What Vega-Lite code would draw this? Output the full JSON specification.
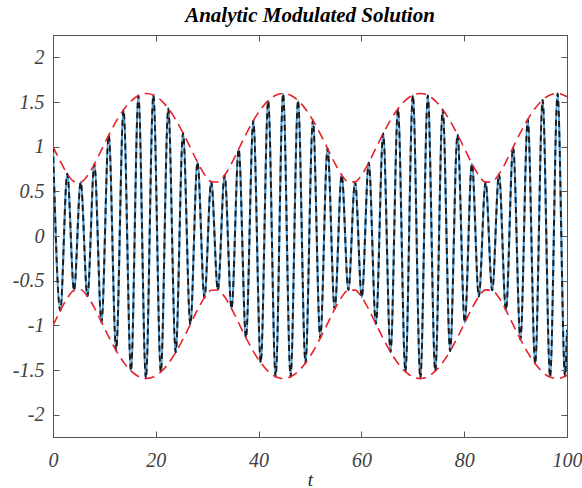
{
  "$schema": "https://vega.github.io/schema/vega-lite/v6.json",
  "width": 514,
  "height": 402,
  "autosize": {"type": "none"},
  "padding": {"left": 53, "top": 35, "right": 15, "bottom": 51},
  "background": "white",
  "title": {"text": "Analytic Modulated Solution", "font": "'Liberation Serif', 'Times New Roman', serif", "fontSize": 21, "fontStyle": "italic", "fontWeight": "bold", "color": "#000000", "offset": 9, "anchor": "middle"},
  "config": {
    "view": {"stroke": "#555555", "strokeWidth": 1},
    "axis": {"grid": false, "domainColor": "#555555", "tickColor": "#555555", "tickSize": -6, "labelFont": "'Liberation Serif', 'Times New Roman', serif", "labelFontStyle": "italic", "labelFontSize": 20, "labelColor": "#404040", "titleFont": "'Liberation Serif', 'Times New Roman', serif", "titleFontStyle": "italic", "titleFontWeight": "normal", "titleFontSize": 19, "titleColor": "#262626", "labelFlush": false, "labelOverlap": false}
  },
  "data": {"values": [
    {"t": 0, "u": 1.0, "upper": 1.001, "lower": -1.001},
    {"t": 1.418, "u": -0.836, "upper": 0.836, "lower": -0.836},
    {"t": 2.777, "u": 0.696, "upper": 0.696, "lower": -0.696},
    {"t": 4.094, "u": -0.610, "upper": 0.610, "lower": -0.610},
    {"t": 5.387, "u": 0.602, "upper": 0.602, "lower": -0.602},
    {"t": 6.697, "u": -0.674, "upper": 0.674, "lower": -0.674},
    {"t": 8.047, "u": 0.804, "upper": 0.804, "lower": -0.804},
    {"t": 9.435, "u": -0.965, "upper": 0.965, "lower": -0.965},
    {"t": 10.849, "u": 1.130, "upper": 1.130, "lower": -1.130},
    {"t": 12.281, "u": -1.283, "upper": 1.283, "lower": -1.283},
    {"t": 13.722, "u": 1.412, "upper": 1.412, "lower": -1.412},
    {"t": 15.169, "u": -1.510, "upper": 1.510, "lower": -1.510},
    {"t": 16.620, "u": 1.572, "upper": 1.572, "lower": -1.572},
    {"t": 18.073, "u": -1.595, "upper": 1.595, "lower": -1.595},
    {"t": 19.526, "u": 1.578, "upper": 1.578, "lower": -1.578},
    {"t": 20.977, "u": -1.522, "upper": 1.522, "lower": -1.522},
    {"t": 22.425, "u": 1.429, "upper": 1.429, "lower": -1.429},
    {"t": 23.868, "u": -1.303, "upper": 1.303, "lower": -1.303},
    {"t": 25.301, "u": 1.153, "upper": 1.153, "lower": -1.153},
    {"t": 26.718, "u": -0.990, "upper": 0.990, "lower": -0.990},
    {"t": 28.111, "u": 0.827, "upper": 0.827, "lower": -0.827},
    {"t": 29.467, "u": -0.690, "upper": 0.690, "lower": -0.690},
    {"t": 30.782, "u": 0.608, "upper": 0.608, "lower": -0.608},
    {"t": 32.075, "u": -0.604, "upper": 0.604, "lower": -0.604},
    {"t": 33.387, "u": 0.680, "upper": 0.680, "lower": -0.680},
    {"t": 34.739, "u": -0.813, "upper": 0.813, "lower": -0.813},
    {"t": 36.129, "u": 0.974, "upper": 0.974, "lower": -0.974},
    {"t": 37.545, "u": -1.139, "upper": 1.139, "lower": -1.139},
    {"t": 38.977, "u": 1.291, "upper": 1.291, "lower": -1.291},
    {"t": 40.418, "u": -1.419, "upper": 1.419, "lower": -1.419},
    {"t": 41.866, "u": 1.515, "upper": 1.515, "lower": -1.515},
    {"t": 43.317, "u": -1.575, "upper": 1.575, "lower": -1.575},
    {"t": 44.770, "u": 1.595, "upper": 1.595, "lower": -1.595},
    {"t": 46.223, "u": -1.576, "upper": 1.576, "lower": -1.576},
    {"t": 47.674, "u": 1.517, "upper": 1.517, "lower": -1.517},
    {"t": 49.122, "u": -1.422, "upper": 1.422, "lower": -1.422},
    {"t": 50.564, "u": 1.296, "upper": 1.296, "lower": -1.296},
    {"t": 51.996, "u": -1.144, "upper": 1.144, "lower": -1.144},
    {"t": 53.413, "u": 0.980, "upper": 0.980, "lower": -0.980},
    {"t": 54.804, "u": -0.818, "upper": 0.818, "lower": -0.818},
    {"t": 56.158, "u": 0.684, "upper": 0.684, "lower": -0.684},
    {"t": 57.470, "u": -0.605, "upper": 0.605, "lower": -0.605},
    {"t": 58.764, "u": 0.606, "upper": 0.606, "lower": -0.606},
    {"t": 60.077, "u": -0.686, "upper": 0.686, "lower": -0.686},
    {"t": 61.432, "u": 0.821, "upper": 0.821, "lower": -0.821},
    {"t": 62.823, "u": -0.984, "upper": 0.984, "lower": -0.984},
    {"t": 64.240, "u": 1.148, "upper": 1.148, "lower": -1.148},
    {"t": 65.673, "u": -1.298, "upper": 1.298, "lower": -1.298},
    {"t": 67.115, "u": 1.425, "upper": 1.425, "lower": -1.425},
    {"t": 68.563, "u": -1.519, "upper": 1.519, "lower": -1.519},
    {"t": 70.014, "u": 1.577, "upper": 1.577, "lower": -1.577},
    {"t": 71.467, "u": -1.595, "upper": 1.595, "lower": -1.595},
    {"t": 72.920, "u": 1.574, "upper": 1.574, "lower": -1.574},
    {"t": 74.371, "u": -1.513, "upper": 1.513, "lower": -1.513},
    {"t": 75.818, "u": 1.416, "upper": 1.416, "lower": -1.416},
    {"t": 77.260, "u": -1.288, "upper": 1.288, "lower": -1.288},
    {"t": 78.691, "u": 1.136, "upper": 1.136, "lower": -1.136},
    {"t": 80.107, "u": -0.971, "upper": 0.971, "lower": -0.971},
    {"t": 81.496, "u": 0.810, "upper": 0.810, "lower": -0.810},
    {"t": 82.848, "u": -0.677, "upper": 0.677, "lower": -0.677},
    {"t": 84.158, "u": 0.603, "upper": 0.603, "lower": -0.603},
    {"t": 85.452, "u": -0.609, "upper": 0.609, "lower": -0.609},
    {"t": 86.767, "u": 0.692, "upper": 0.692, "lower": -0.692},
    {"t": 88.124, "u": -0.830, "upper": 0.830, "lower": -0.830},
    {"t": 89.518, "u": 0.993, "upper": 0.993, "lower": -0.993},
    {"t": 90.936, "u": -1.157, "upper": 1.157, "lower": -1.157},
    {"t": 92.369, "u": 1.306, "upper": 1.306, "lower": -1.306},
    {"t": 93.811, "u": -1.431, "upper": 1.431, "lower": -1.431},
    {"t": 95.260, "u": 1.523, "upper": 1.523, "lower": -1.523},
    {"t": 96.711, "u": -1.579, "upper": 1.579, "lower": -1.579},
    {"t": 98.164, "u": 1.595, "upper": 1.595, "lower": -1.595},
    {"t": 99.617, "u": -1.571, "upper": 1.571, "lower": -1.571},
    {"t": 100, "u": -1.051, "upper": 1.559, "lower": -1.559}
  ]},
  "layer": [
    {
      "mark": {"type": "line", "interpolate": "monotone", "color": "#4d9ad6", "strokeWidth": 2.2, "clip": true},
      "encoding": {
        "x": {"field": "t", "type": "quantitative", "scale": {"domain": [0, 100], "nice": false, "zero": false},
              "axis": {"orient": "bottom", "values": [0, 20, 40, 60, 80, 100], "title": "t", "labelPadding": 19, "titlePadding": 0}},
        "y": {"field": "u", "type": "quantitative", "scale": {"domain": [-2.25, 2.25], "nice": false, "zero": false},
              "axis": {"orient": "left", "values": [-2, -1.5, -1, -0.5, 0, 0.5, 1, 1.5, 2], "title": null, "labelExpr": "'' + datum.value", "labelPadding": 15}}
      }
    },
    {
      "mark": {"type": "line", "interpolate": "monotone", "color": "#1a1a1a", "strokeWidth": 1.9, "strokeDash": [6, 4], "clip": true},
      "encoding": {
        "x": {"field": "t", "type": "quantitative", "axis": {"orient": "top", "values": [0, 20, 40, 60, 80, 100], "labels": false, "title": null}},
        "y": {"field": "u", "type": "quantitative", "axis": {"orient": "right", "values": [-2, -1.5, -1, -0.5, 0, 0.5, 1, 1.5, 2], "labels": false, "title": null}}
      }
    },
    {
      "mark": {"type": "line", "interpolate": "monotone", "color": "#e8202a", "strokeWidth": 1.6, "strokeDash": [10, 6], "clip": true},
      "encoding": {
        "x": {"field": "t", "type": "quantitative", "axis": null},
        "y": {"field": "upper", "type": "quantitative", "axis": null}
      }
    },
    {
      "mark": {"type": "line", "interpolate": "monotone", "color": "#e8202a", "strokeWidth": 1.6, "strokeDash": [10, 6], "clip": true},
      "encoding": {
        "x": {"field": "t", "type": "quantitative", "axis": null},
        "y": {"field": "lower", "type": "quantitative", "axis": null}
      }
    }
  ],
  "resolve": {"axis": {"x": "independent", "y": "independent"}}
}
